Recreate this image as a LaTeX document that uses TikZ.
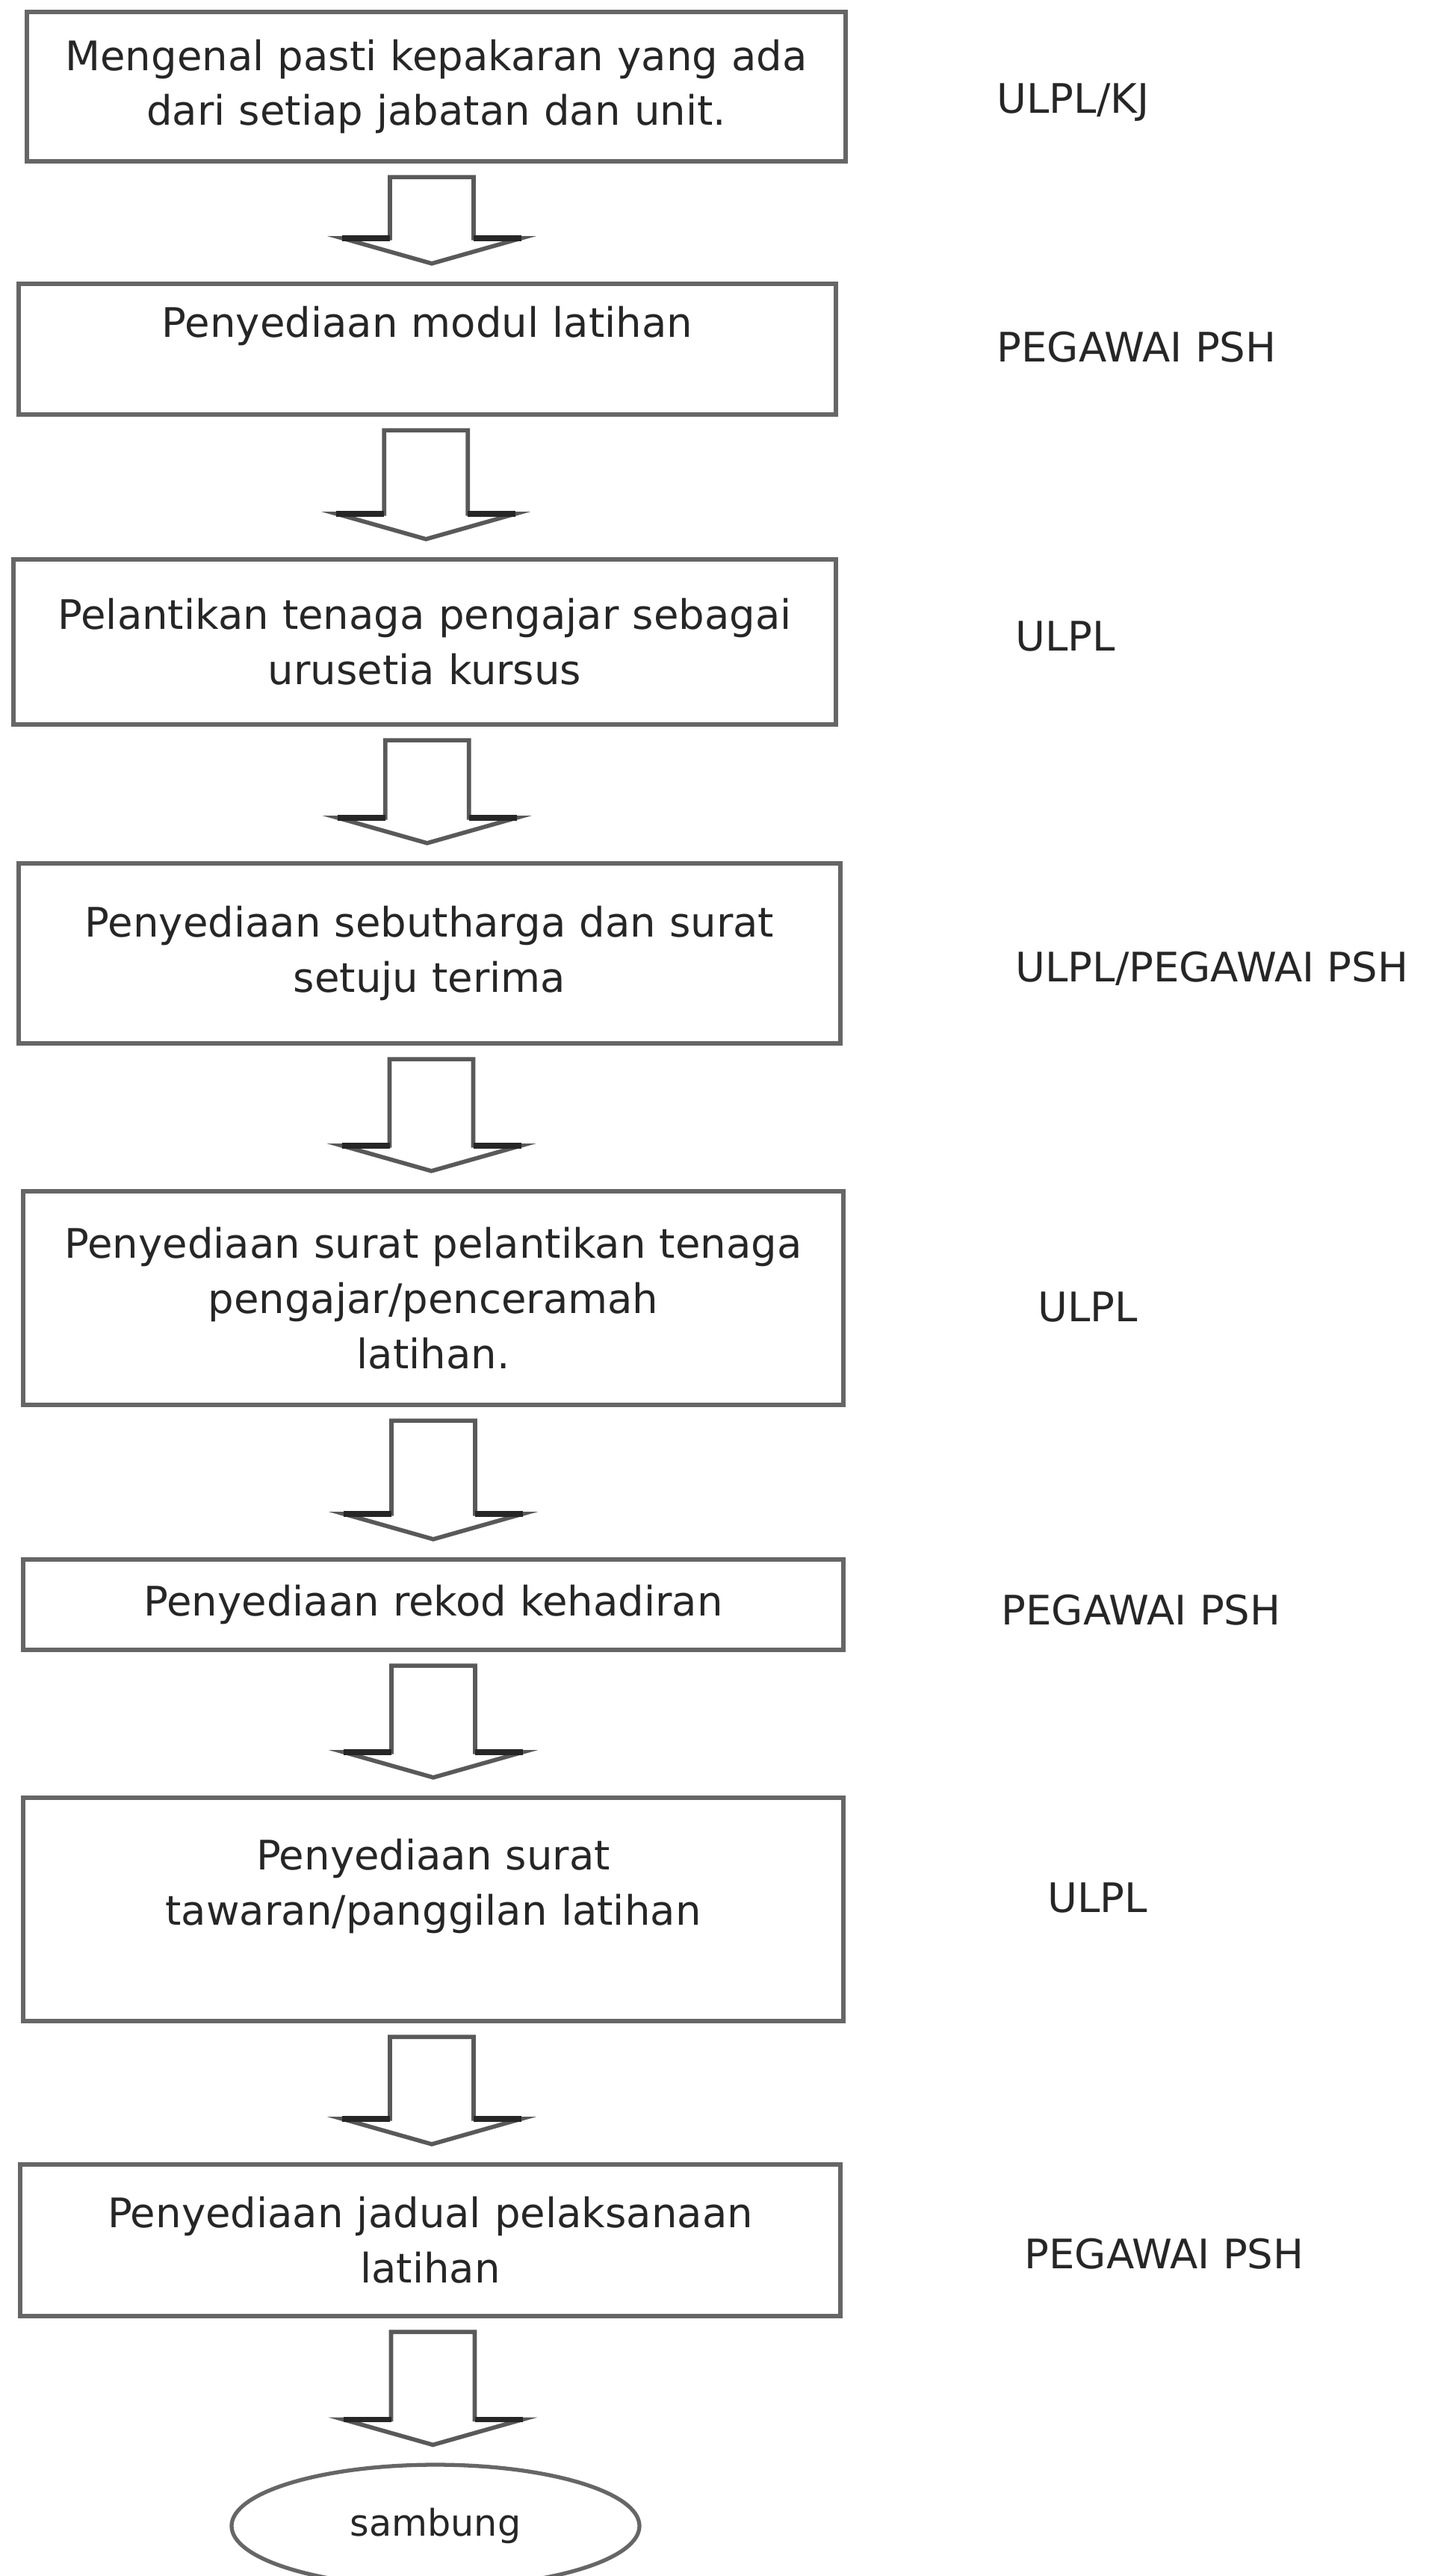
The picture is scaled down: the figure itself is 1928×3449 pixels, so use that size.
\documentclass[tikz,border=0pt]{standalone}
\usepackage{fontspec}
\setmainfont{DejaVu Sans}
\usepackage{tikz}
\usetikzlibrary{shapes.geometric,calc}
\colorlet{linecol}{black!60}
\colorlet{txtcol}{black!85}
\tikzstyle{stepbox}=[draw=linecol,line width=1.8pt,rectangle,inner sep=0pt,text width=105mm,align=center,text=txtcol,font=\fontsize{15.5}{21}\selectfont]
\tikzstyle{unit}=[anchor=west,inner sep=0pt,text depth=0pt,text=txtcol,font=\fontsize{15.5}{21}\selectfont]
\tikzstyle{bigarrow}=[draw=black!65,line width=1.6pt,fill=white,line join=miter]
\tikzstyle{wingedge}=[draw=black!85,line width=2.2pt]
\tikzstyle{endcap}=[draw=linecol,line width=1.5pt,ellipse,inner sep=0pt,minimum width=54.6mm,minimum height=16.4mm,text=txtcol,font=\fontsize{14}{17}\selectfont]

\begin{document}
\begin{tikzpicture}[x=0.1mm,y=-0.1mm]
	\useasboundingbox (0,0) rectangle (1928,3449);
	\node[stepbox,minimum width=109.6mm,minimum height=20mm] (b1) at (584,116) {Mengenal pasti kepakaran yang ada\\dari setiap jabatan dan unit.};
	\node[stepbox,minimum width=109.4mm,minimum height=17.5mm] (b2) at (572,467.5) {Penyediaan modul latihan\\\mbox{}};
	\node[stepbox,minimum width=110.1mm,minimum height=22.1mm] (b3) at (568.5,859.5) {Pelantikan tenaga pengajar sebagai\\urusetia kursus};
	\node[stepbox,minimum width=110mm,minimum height=24.1mm] (b4) at (575,1276.5) {Penyediaan sebutharga dan surat\\setuju terima};
	\node[stepbox,minimum width=109.8mm,minimum height=28.6mm] (b5) at (580,1738) {Penyediaan surat pelantikan tenaga\\pengajar/penceramah\\latihan.};
	\node[stepbox,minimum width=109.8mm,minimum height=12.1mm] (b6) at (580,2148.5) {Penyediaan rekod kehadiran};
	\node[stepbox,minimum width=109.8mm,minimum height=29.9mm] (b7) at (580,2556.5) {Penyediaan surat\\tawaran/panggilan latihan\\\mbox{}};
	\node[stepbox,minimum width=109.8mm,minimum height=20.3mm] (b8) at (576,2999.5) {Penyediaan jadual pelaksanaan\\latihan};
	\node[endcap] (sb) at (583,3382) {sambung};

	\node[unit] (r1) at (1334,132) {ULPL/KJ};
	\node[unit] (r2) at (1334,464) {PEGAWAI PSH};
	\node[unit] (r3) at (1359,852) {ULPL};
	\node[unit] (r4) at (1359,1294) {ULPL/PEGAWAI PSH};
	\node[unit] (r5) at (1389,1750) {ULPL};
	\node[unit] (r6) at (1340,2155) {PEGAWAI PSH};
	\node[unit] (r7) at (1402,2541) {ULPL};
	\node[unit] (r8) at (1371,3017) {PEGAWAI PSH};

	\foreach \a/\b in {b1/b2,b2/b3,b3/b4,b4/b5,b5/b6,b6/b7,b7/b8,b8/sb} {
		\draw[bigarrow] let \p1=(\a.south), \p2=(\b.north) in
			({(\x1+\x2)/2-5.6mm},{\y1-1.8mm}) -- ({(\x1+\x2)/2+5.6mm},{\y1-1.8mm})
			-- ({(\x1+\x2)/2+5.6mm},{\y2+5.8mm}) -- ({(\x1+\x2)/2+12mm},{\y2+5.8mm})
			-- ({(\x1+\x2)/2},{\y2+2.4mm}) -- ({(\x1+\x2)/2-12mm},{\y2+5.8mm})
			-- ({(\x1+\x2)/2-5.6mm},{\y2+5.8mm}) -- cycle;
		\draw[wingedge] let \p1=(\a.south), \p2=(\b.north) in
			({(\x1+\x2)/2-12mm},{\y2+5.8mm}) -- ({(\x1+\x2)/2-5.6mm},{\y2+5.8mm})
			({(\x1+\x2)/2+5.6mm},{\y2+5.8mm}) -- ({(\x1+\x2)/2+12mm},{\y2+5.8mm});
	}
\end{tikzpicture}
\end{document}
